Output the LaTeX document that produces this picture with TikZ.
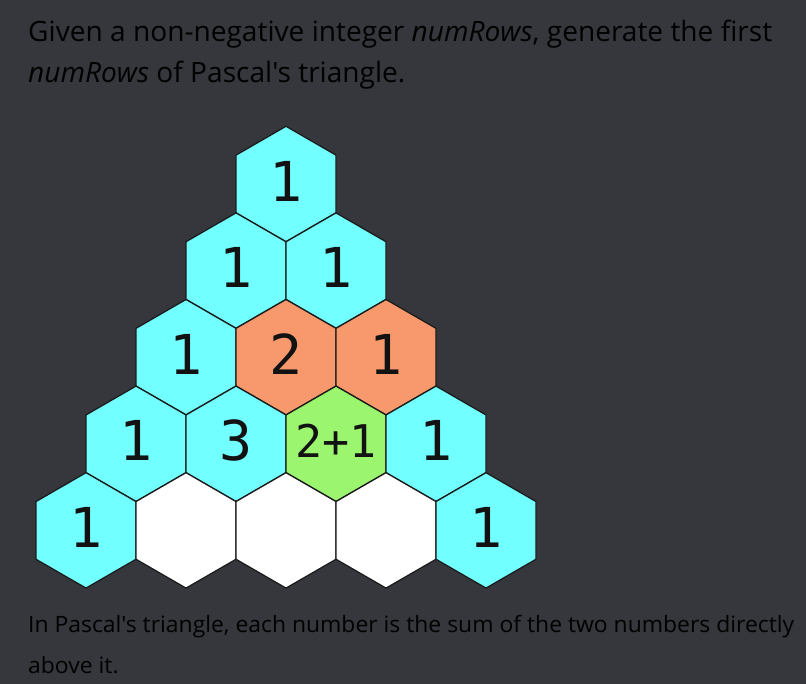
\documentclass[tikz,border=0pt]{standalone}
\usepackage{fontspec}
\usepackage{graphicx}
\newfontfamily\prose{Open Sans}
\newfontfamily\numfont{DejaVu Sans Mono}
\definecolor{bg}{HTML}{35373C}
\definecolor{txt}{HTML}{CACBCD}
\definecolor{cyanhex}{HTML}{72FFFF}
\definecolor{orangehex}{HTML}{F7996C}
\definecolor{greenhex}{HTML}{9BF56E}
\definecolor{edge}{HTML}{1C1C1C}
\definecolor{numcol}{HTML}{121212}
\newsavebox\lineA
\newsavebox\lineB
\newsavebox\lineC
\newsavebox\lineD
\def\hexR{57.735}
\newcommand\hexcell[5]{%
  \draw[hexline, fill=#4] (#2,#3) +(30:\hexR) -- +(90:\hexR) -- +(150:\hexR) -- +(210:\hexR) -- +(270:\hexR) -- +(330:\hexR) -- cycle;
  \node[num] (#1) at (#2,#3-3) {#5};
}
\AtBeginDocument{%
\sbox\lineA{\prose\fontsize{28}{28}\selectfont Given a non-negative integer \textit{numRows}, generate the first}%
\sbox\lineB{\prose\fontsize{28}{28}\selectfont \textit{numRows} of Pascal's triangle.}%
\sbox\lineC{\prose\fontsize{22.5}{22.5}\selectfont In Pascal's triangle, each number is the sum of the two numbers directly}%
\sbox\lineD{\prose\fontsize{22.5}{22.5}\selectfont above it.}%
\pgfmathsetmacro\fA{744/\wd\lineA}%
\pgfmathsetmacro\fC{766/\wd\lineC}%
\global\let\fA\fA
\global\let\fC\fC
}
\begin{document}
\begin{tikzpicture}[x=1pt,y=-1pt,
  hexline/.style={draw=edge, line width=1.3pt, line join=miter},
  num/.style={inner sep=0pt, text=numcol, font=\numfont\fontsize{55}{55}\selectfont},
  prosetext/.style={inner sep=0pt, text=txt, anchor=base west}]
\fill[bg] (0,0) rectangle (806,684);
\useasboundingbox (0,0) rectangle (806,684);
\node[prosetext] (t1) at (28,42) {\scalebox{\fA}[1]{\usebox\lineA}};
\node[prosetext] (t2) at (28,83) {\scalebox{\fA}[1]{\usebox\lineB}};
% row 1
\hexcell{a1}{286}{184}{cyanhex}{1}
% row 2
\hexcell{b1}{236}{270.6}{cyanhex}{1}
\hexcell{b2}{336}{270.6}{cyanhex}{1}
% row 3
\hexcell{c1}{186}{357.2}{cyanhex}{1}
\hexcell{c2}{286}{357.2}{orangehex}{2}
\hexcell{c3}{386}{357.2}{orangehex}{1}
% row 4
\hexcell{d1}{136}{443.8}{cyanhex}{1}
\hexcell{d2}{236}{443.8}{cyanhex}{3}
\hexcell{d3}{336}{443.8}{greenhex}{\fontsize{45}{45}\selectfont 2+1}
\hexcell{d4}{436}{443.8}{cyanhex}{1}
% row 5
\hexcell{e1}{86}{530.4}{cyanhex}{1}
\hexcell{e2}{186}{530.4}{white}{}
\hexcell{e3}{286}{530.4}{white}{}
\hexcell{e4}{386}{530.4}{white}{}
\hexcell{e5}{486}{530.4}{cyanhex}{1}
\node[prosetext] (t3) at (28,632) {\scalebox{\fC}[1]{\usebox\lineC}};
\node[prosetext] (t4) at (28,673) {\scalebox{\fC}[1]{\usebox\lineD}};
\end{tikzpicture}
\end{document}
